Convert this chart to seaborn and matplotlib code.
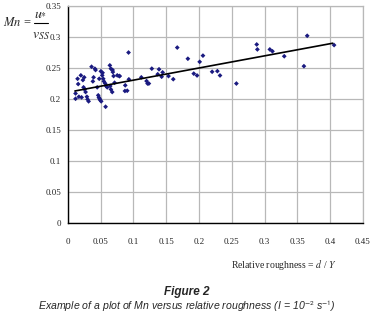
import numpy as np
import pandas as pd
import matplotlib
matplotlib.use("Agg")
import matplotlib.pyplot as plt
from matplotlib.lines import Line2D
import seaborn as sns

# Data
rel_roughness = [
    0.0117, 0.0117, 0.0148, 0.0157, 0.0168, 0.0198, 0.0209, 0.0229, 0.0249, 0.0239,
    0.0255, 0.0270, 0.0290, 0.0300, 0.0316, 0.0361, 0.0381, 0.0392, 0.0412, 0.0422,
    0.0447, 0.0463, 0.0473, 0.0483, 0.0493, 0.0508, 0.0478, 0.0503, 0.0529, 0.0524,
    0.0539, 0.0549, 0.0569, 0.0584, 0.0600, 0.0575, 0.0640, 0.0656, 0.0682, 0.0686,
    0.0697, 0.0646, 0.0656, 0.0676, 0.0712, 0.0753, 0.0783, 0.0875, 0.0905, 0.0870,
    0.0925, 0.0930, 0.0790, 0.1120, 0.1200, 0.1215, 0.1235, 0.1280, 0.1370, 0.1390,
    0.1445, 0.1430, 0.1535, 0.1607, 0.1668, 0.1830, 0.1920, 0.1970, 0.2010, 0.2060,
    0.2200, 0.2280, 0.2320, 0.2570, 0.2880, 0.2890, 0.3080, 0.3120, 0.3300, 0.3600,
    0.3650, 0.4060,
]
mn_values = [
    0.2090, 0.2005, 0.2327, 0.2242, 0.2037, 0.2382, 0.2027, 0.2306, 0.2350, 0.2189,
    0.2156, 0.2113, 0.2037, 0.1995, 0.1963, 0.2521, 0.2285, 0.2350, 0.2489, 0.2468,
    0.2189, 0.2060, 0.2027, 0.2005, 0.1984, 0.1963, 0.2327, 0.2447, 0.2424, 0.2382,
    0.2327, 0.2285, 0.2253, 0.2210, 0.2189, 0.1876, 0.2543, 0.2489, 0.2468, 0.2435,
    0.2371, 0.2210, 0.2156, 0.2113, 0.2263, 0.2382, 0.2371, 0.2221, 0.2134, 0.2130,
    0.2750, 0.2318, 0.2370, 0.2350, 0.2290, 0.2250, 0.2250, 0.2490, 0.2400, 0.2480,
    0.2430, 0.2360, 0.2370, 0.2320, 0.2830, 0.2650, 0.2410, 0.2380, 0.2600, 0.2700,
    0.2440, 0.2450, 0.2380, 0.2250, 0.2880, 0.2800, 0.2800, 0.2770, 0.2690, 0.2530,
    0.3020, 0.2870,
]
trend_x = [0.0107, 0.404]
trend_y = [0.213, 0.290]

x_ticks = [0, 0.05, 0.1, 0.15, 0.2, 0.25, 0.3, 0.35, 0.4, 0.45]
x_tick_labels = ["0", "0.05", "0.1", "0.15", "0.2", "0.25", "0.3", "0.35", "0.4", "0.45"]
y_ticks = [0, 0.05, 0.1, 0.15, 0.2, 0.25, 0.3, 0.35]
y_tick_labels = ["0", "0.05", "0.1", "0.15", "0.2", "0.25", "0.3", "0.35"]

df = pd.DataFrame({"rr": rel_roughness, "mn": mn_values})
line_df = pd.DataFrame({"x": trend_x, "y": trend_y})

sns.set_style("white")
plt.rcParams["mathtext.fontset"] = "stix"

W, H = 373, 316
fig = plt.figure(figsize=(W / 100, H / 100), dpi=100)
ax = fig.add_axes([0.182, 0.294, 0.791, 0.687])

sns.scatterplot(data=df, x="rr", y="mn", ax=ax, color="#1a1a80", marker="D",
                s=6, edgecolor="none", zorder=3)
sns.lineplot(data=line_df, x="x", y="y", ax=ax, color="black", linewidth=1.2, zorder=4)

ax.set_xlim(0, 0.45)
ax.set_ylim(0, 0.35)
ax.set_xticks(x_ticks)
ax.set_xticklabels(x_tick_labels)
ax.set_yticks(y_ticks)
ax.set_yticklabels(y_tick_labels)
ax.grid(True, color="#b8b8b8", linewidth=0.9)
ax.set_axisbelow(True)
ax.set_xlabel("")
ax.set_ylabel("")
for lab in ax.get_xticklabels() + ax.get_yticklabels():
    lab.set_family("Liberation Serif")
    lab.set_fontsize(6.5)
ax.tick_params(axis="both", direction="out", length=3, width=0.8, color="black")
ax.tick_params(axis="y", pad=2)
ax.tick_params(axis="x", pad=8)
for side in ["left", "bottom"]:
    ax.spines[side].set_color("black")
    ax.spines[side].set_linewidth(1.0)
for side in ["top", "right"]:
    ax.spines[side].set_color("#b8b8b8")
    ax.spines[side].set_linewidth(0.9)

def fx(px):
    return px / W

def fy(py):
    return 1 - py / H

# y-axis label: Mn = u* / v_SS built as a stacked fraction
fig.text(fx(3), fy(23), r"$Mn$ =", fontsize=9, family="Liberation Serif",
         ha="left", va="center")
fig.text(fx(41), fy(13), r"$u_{*}$", fontsize=10, ha="center", va="center")
fig.add_artist(Line2D([fx(34), fx(48)], [fy(23), fy(23)], color="black",
                      linewidth=0.8, transform=fig.transFigure))
fig.text(fx(41), fy(35), r"$v_{SS}$", fontsize=10, ha="center", va="center")

fig.text(0.62, 0.16, "Relative roughness = $d$ / $Y$", fontsize=7,
         family="Liberation Serif", ha="left", va="center")
fig.text(0.5, 0.075, "Figure 2", fontsize=8.5, family="Liberation Sans",
         style="italic", weight="bold", ha="center", va="center")
fig.text(0.5, 0.03, "Example of a plot of Mn versus relative roughness (I = 10$^{\\mathsf{-2}}$ s$^{\\mathsf{-1}}$)",
         fontsize=7.6, family="Liberation Sans", style="italic", ha="center", va="center")

fig.savefig("out.png", dpi=100)
